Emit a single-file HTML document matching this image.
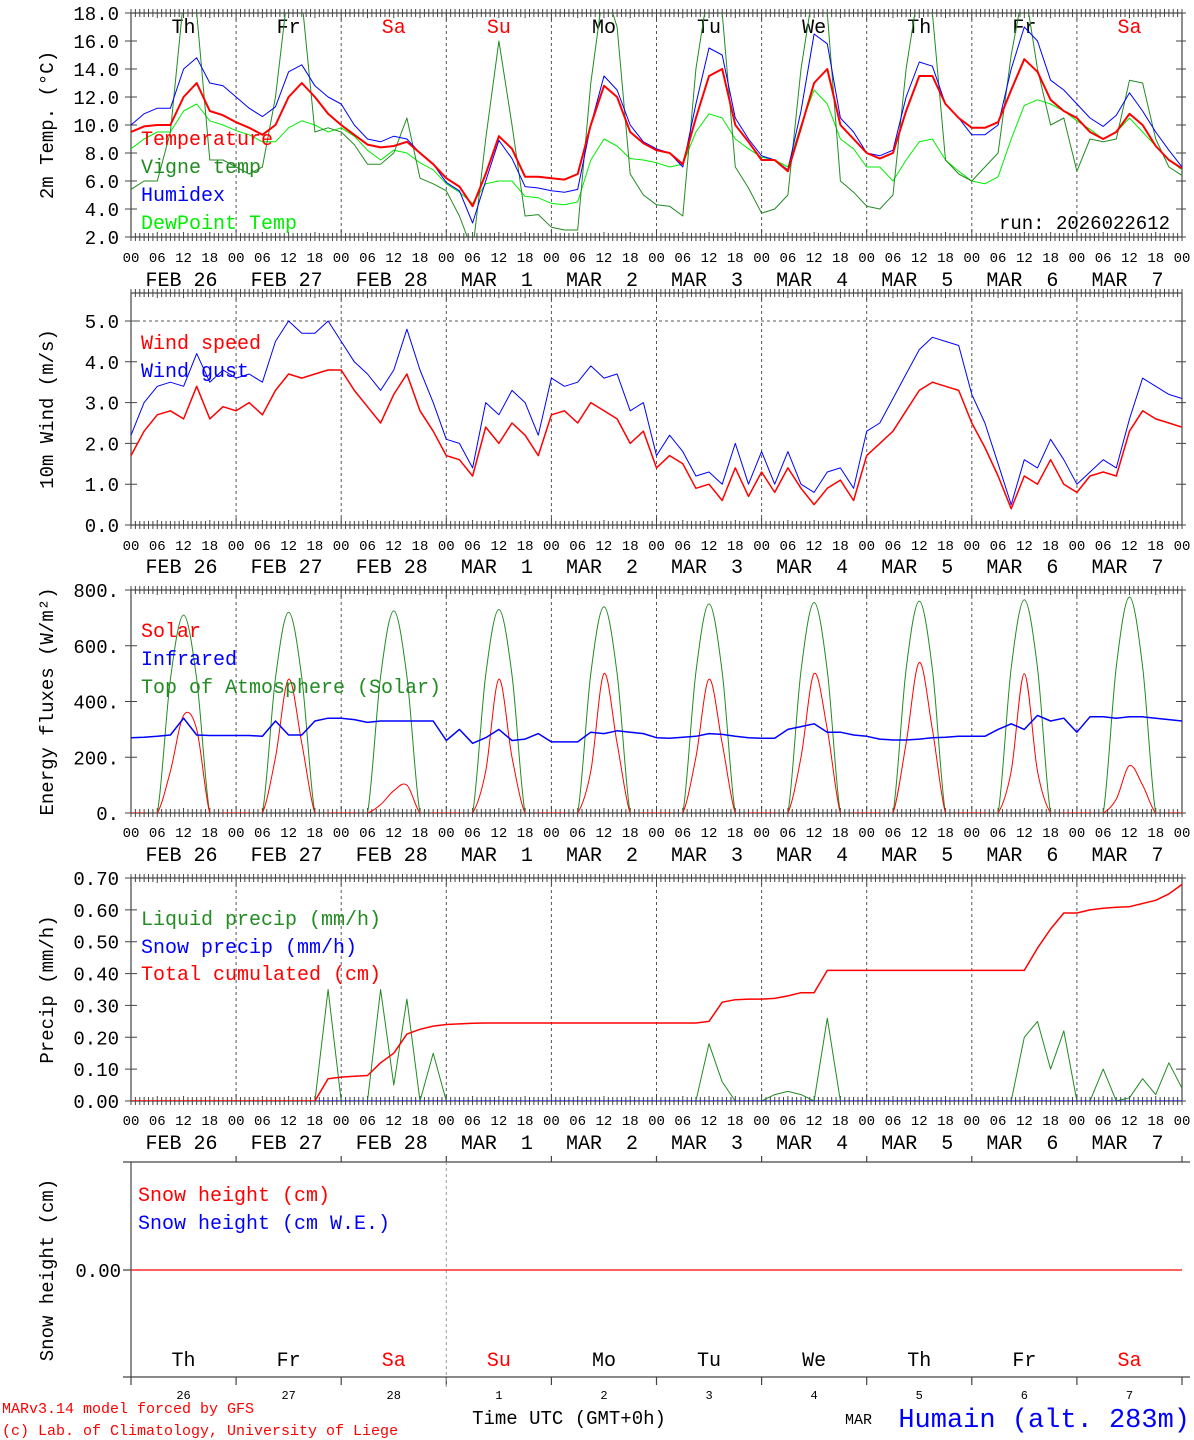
<!DOCTYPE html>
<html><head><meta charset="utf-8">
<style>
body{margin:0;background:#fff;}
svg{display:block;font-family:"Liberation Mono","DejaVu Sans Mono",monospace;}
</style></head>
<body>
<svg id="chart" width="1194" height="1440" viewBox="0 0 1194 1440" xmlns="http://www.w3.org/2000/svg"></svg>
<script>
// ---- data (3-hourly, 81 values from FEB 26 00 UTC to MAR 8 00 UTC) ----
const weekdays=['Th','Fr','Sa','Su','Mo','Tu','We','Th','Fr','Sa'];
const dateLabels=['FEB 26','FEB 27','FEB 28','MAR  1','MAR  2','MAR  3','MAR  4','MAR  5','MAR  6','MAR  7'];
const dayNums=['26','27','28','1','2','3','4','5','6','7'];
const hourLabels=['00','06','12','18'];
const tempTicks=[2,4,6,8,10,12,14,16,18];
const windTicks=[0,1,2,3,4,5];
const fluxTicks=[0,200,400,600,800];
const precipTicks=[0,0.1,0.2,0.3,0.4,0.5,0.6,0.7];
const temperature=[9.5,9.9,10.0,10.0,12.0,13.0,11.0,10.7, 10.2,9.8,9.3,10.0,12.0,13.0,12.0,10.8, 10.0,9.3,8.6,8.4,8.5,8.8,8.0,7.2, 6.2,5.6,4.2,6.5,9.2,8.3,6.3,6.3, 6.2,6.1,6.5,10.0,12.8,12.0,9.5,8.7, 8.2,8.0,7.2,10.5,13.5,14.0,10.0,8.8, 7.5,7.5,6.7,9.8,13.0,14.0,10.0,9.0, 8.0,7.6,8.0,11.0,13.5,13.5,11.5,10.5, 9.8,9.8,10.2,12.5,14.7,13.8,11.8,11.0, 10.5,9.5,9.0,9.5,10.8,10.0,8.5,7.5,6.9];
const humidex=[10.0,10.8,11.2,11.2,14.0,14.8,13.0,12.8, 12.0,11.2,10.6,11.3,13.8,14.3,12.8,12.0, 11.5,10.0,9.0,8.8,9.2,9.0,8.0,7.2, 5.9,5.3,3.0,6.0,8.9,7.6,5.6,5.5, 5.3,5.2,5.4,10.0,13.5,12.5,10.0,8.8, 8.3,8.0,7.0,11.5,15.5,15.0,10.5,9.0, 7.8,7.5,6.8,11.0,16.5,15.8,10.5,9.5, 8.0,7.8,8.2,12.0,14.5,14.2,11.5,10.5, 9.3,9.3,10.0,14.0,17.0,16.0,13.2,12.5, 11.5,10.5,9.9,10.7,12.3,11.0,9.5,8.2,7.0];
const dewpoint=[8.3,9.0,9.5,9.5,11.0,11.5,10.3,10.0, 9.6,9.3,8.8,8.8,9.8,10.3,10.0,9.5, 9.8,9.2,8.2,7.5,8.2,8.0,7.3,6.8, 5.8,5.2,4.4,5.8,6.0,6.0,4.9,4.8, 4.4,4.3,4.5,7.5,9.0,8.5,7.6,7.5, 7.3,7.0,7.2,9.5,10.8,10.5,9.0,8.3, 7.7,7.5,7.0,10.0,12.5,11.5,9.0,8.3, 7.0,7.0,6.0,7.5,8.8,9.0,7.5,6.7, 6.0,5.8,6.3,9.0,11.4,11.8,11.5,11.0, 10.3,9.7,9.0,9.5,10.5,9.5,8.5,7.5,6.8];
const vigne=[5.4,6.0,6.0,9.5,19,18,7.5,7.5, 7.0,6.5,7.0,12,20,19,9.5,9.8, 9.5,8.6,7.2,7.2,8.0,10.5,6.2,5.8, 5.3,3.5,1.0,9.0,16.0,10.0,3.5,3.6, 2.7,2.5,2.5,13,20,17,6.5,5.0, 4.3,4.2,3.5,14,20,18,7.0,5.5, 3.7,4.0,5.0,14,20,18,6.0,5.2, 4.2,4.0,5.0,14,20,18,7.5,6.5, 6.0,7.0,8.0,15,20,14,10,10.5, 6.7,9.0,8.8,9.0,13.2,13.0,9.0,7.0,6.4];
const windSpeed=[1.7,2.3,2.7,2.8,2.6,3.4,2.6,2.9, 2.8,3.0,2.7,3.3,3.7,3.6,3.7,3.8, 3.8,3.3,2.9,2.5,3.2,3.7,2.8,2.3, 1.7,1.6,1.2,2.4,2.0,2.5,2.2,1.7, 2.7,2.8,2.5,3.0,2.8,2.6,2.0,2.3, 1.4,1.7,1.5,0.9,1.0,0.6,1.4,0.7, 1.3,0.8,1.4,0.9,0.5,0.9,1.1,0.6, 1.7,2.0,2.3,2.8,3.3,3.5,3.4,3.3, 2.5,1.9,1.2,0.4,1.2,1.0,1.6,1.0, 0.8,1.2,1.3,1.2,2.3,2.8,2.6,2.5,2.4];
const windGust=[2.2,3.0,3.4,3.5,3.4,4.2,3.5,3.8, 3.6,3.7,3.5,4.5,5.0,4.7,4.7,5.0, 4.5,4.0,3.7,3.3,3.8,4.8,3.8,3.0, 2.1,2.0,1.4,3.0,2.7,3.3,3.0,2.2, 3.6,3.4,3.5,3.9,3.6,3.7,2.8,3.0, 1.7,2.2,1.8,1.2,1.3,1.0,2.0,1.0, 1.8,1.0,1.8,1.0,0.8,1.3,1.4,0.9, 2.3,2.5,3.1,3.7,4.3,4.6,4.5,4.4, 3.2,2.5,1.5,0.5,1.6,1.4,2.1,1.6, 1.0,1.3,1.6,1.4,2.6,3.6,3.4,3.2,3.1];
const solar=[0,0,0,150,350,300,0,0, 0,0,0,200,480,250,0,0, 0,0,0,30,80,100,0,0, 0,0,0,150,480,200,0,0, 0,0,0,150,500,250,0,0, 0,0,0,200,480,250,0,0, 0,0,0,200,500,300,0,0, 0,0,0,250,540,300,0,0, 0,0,0,150,500,150,0,0, 0,0,0,50,170,100,0,0,0];
const infrared=[270,272,275,280,340,280,278,278, 278,278,275,330,280,280,330,340, 340,335,325,330,330,330,330,330, 260,300,250,270,300,260,265,285, 255,255,255,290,285,295,290,285, 270,268,272,275,285,282,275,270, 268,268,300,310,320,290,290,280, 275,265,262,262,265,270,272,275, 275,275,300,320,300,350,330,340, 290,345,345,340,345,345,340,335,330];
const toa=[0,0,0,480,710,480,0,0, 0,0,0,485,720,485,0,0, 0,0,0,490,725,490,0,0, 0,0,0,495,730,495,0,0, 0,0,0,500,740,500,0,0, 0,0,0,505,750,505,0,0, 0,0,0,510,755,510,0,0, 0,0,0,515,760,515,0,0, 0,0,0,520,765,520,0,0, 0,0,0,525,775,525,0,0,0];
const liquid=[0,0,0,0,0,0,0,0, 0,0,0,0,0,0,0,0.35, 0,0,0,0.35,0.05,0.32,0,0.15, 0,0,0,0,0,0,0,0, 0,0,0,0,0,0,0,0, 0,0,0,0,0.18,0.06,0,0, 0,0.02,0.03,0.02,0,0.26,0,0, 0,0,0,0,0,0,0,0, 0,0,0,0,0.2,0.25,0.1,0.22, 0,0,0.1,0,0.01,0.07,0.02,0.12,0.04];
const snowPrecip=[0,0,0,0,0,0,0,0, 0,0,0,0,0,0,0,0, 0,0,0,0,0,0,0,0, 0,0,0,0,0,0,0,0, 0,0,0,0,0,0,0,0, 0,0,0,0,0,0,0,0, 0,0,0,0,0,0,0,0, 0,0,0,0,0,0,0,0, 0,0,0,0,0,0,0,0, 0,0,0,0,0,0,0,0,0];
const cumulated=[0,0,0,0,0,0,0,0, 0,0,0,0,0,0,0,0.07, 0.075,0.078,0.08,0.12,0.15,0.21,0.225,0.235, 0.24,0.242,0.244,0.245,0.245,0.245,0.245,0.245, 0.245,0.245,0.245,0.245,0.245,0.245,0.245,0.245, 0.245,0.245,0.245,0.245,0.25,0.31,0.318,0.32, 0.32,0.322,0.33,0.34,0.34,0.41,0.41,0.41, 0.41,0.41,0.41,0.41,0.41,0.41,0.41,0.41, 0.41,0.41,0.41,0.41,0.41,0.48,0.54,0.59, 0.59,0.6,0.605,0.608,0.61,0.62,0.63,0.65,0.68];
const snowHeight=[0,0];
</script>
<script>
const svg=document.getElementById('chart');
const NS='http://www.w3.org/2000/svg';
const X0=131,X1=1182;
function X(h){return X0+h*(X1-X0)/240;}
function mk(tag,attrs,parent){const e=document.createElementNS(NS,tag);for(const k in attrs)e.setAttribute(k,attrs[k]);(parent||svg).appendChild(e);return e;}
function txt(s,x,y,size,color,anchor,parent){const e=mk('text',{x:x,y:y,'font-size':size,fill:color,'text-anchor':anchor||'start'},parent);e.textContent=s;e.setAttribute('xml:space','preserve');e.style.whiteSpace='pre';return e;}

const panels=[
 {top:13,bot:237,min:2,max:18,ticks:tempTicks,fmt:v=>v.toFixed(1),title:'2m Temp. (\u00B0C)',hy:257,dy:279},
 {top:293,bot:525,min:0,max:5.686,ticks:windTicks,fmt:v=>v.toFixed(1),title:'10m Wind (m/s)',hy:545,dy:566},
 {top:590,bot:813,min:0,max:800,ticks:fluxTicks,fmt:v=>v+'.',title:'Energy fluxes (W/m\u00B2)',hy:832,dy:854},
 {top:878,bot:1101,min:0,max:0.7,ticks:precipTicks,fmt:v=>v.toFixed(2),title:'Precip (mm/h)',hy:1120,dy:1142}
];
function Y(p,v){return p.bot-(v-p.min)/(p.max-p.min)*(p.bot-p.top);}

panels.forEach((p,pi)=>{
  const g=mk('g',{});
  
  
  const cp=mk('clipPath',{id:'clip'+pi},g);
  mk('rect',{x:X0,y:p.top,width:X1-X0,height:p.bot-p.top},cp);
  let d='';
  for(let i=1;i<10;i++){d+='M'+X(i*24)+' '+p.top+'V'+p.bot;}
  const dv=mk('path',{d:d,stroke:'#555','stroke-width':1,'stroke-dasharray':'3,3',fill:'none'},g);
  
  
  const fr=mk('rect',{x:X0,y:p.top,width:X1-X0,height:p.bot-p.top,fill:'none',stroke:'#444','stroke-width':1.2},g);
  
  
  let t='';
  for(let h=0;h<=240;h++){const x=X(h);const L=(h%24==0)?7:(h%6==0?5:4);t+='M'+x+' '+(p.bot-L)+'V'+(p.bot+4)+'M'+x+' '+(p.top-4)+'V'+(p.top+L);}
  p.ticks.forEach(v=>{const y=Y(p,v);t+='M'+(X0-6)+' '+y+'H'+(X0+6)+'M'+(X1-6)+' '+y+'H'+(X1+4);});
  const tk=mk('path',{d:t,stroke:'#444','stroke-width':1,fill:'none'},g);
  
  
  p.ticks.forEach(v=>{
    const l=txt(p.fmt(v),X0-12,Y(p,v)+7,19,'#000','end',g);
    
    
  });
  const ti=txt(p.title,0,0,19,'#000','middle',g);
  ti.setAttribute('transform','translate(53,'+((p.top+p.bot)/2)+') rotate(-90)');
  
  
  for(let h=0;h<=240;h+=6){
    const l=txt(hourLabels[(h/6)%4],X(h),p.hy+5,14,'#000','middle',g);
    
    
  }
  dateLabels.forEach((s,i)=>{
    const l=txt(s,X(i*24+12)-2,p.dy+7,20,'#000','middle',g);
    
    
  });
  p.g=g;
});
function series(pi,arr,color,w,name,smooth){
  const p=panels[pi];
  const pts=arr.map((v,i)=>[X(i*3),Y(p,v)]);
  let d='M'+pts[0][0].toFixed(1)+' '+pts[0][1].toFixed(1);
  for(let i=1;i<pts.length;i++){
    if(smooth){
      const p0=pts[Math.max(0,i-2)],p1=pts[i-1],p2=pts[i],p3=pts[Math.min(pts.length-1,i+1)];
      const c1=[p1[0]+(p2[0]-p0[0])/6,Math.min(p.bot+5,p1[1]+(p2[1]-p0[1])/6)];
      const c2=[p2[0]-(p3[0]-p1[0])/6,Math.min(p.bot+5,p2[1]-(p3[1]-p1[1])/6)];
      d+='C'+c1[0].toFixed(1)+' '+c1[1].toFixed(1)+' '+c2[0].toFixed(1)+' '+c2[1].toFixed(1)+' '+p2[0].toFixed(1)+' '+p2[1].toFixed(1);
    } else d+='L'+pts[i][0].toFixed(1)+' '+pts[i][1].toFixed(1);
  }
  const e=mk('path',{d:d,stroke:color,'stroke-width':w,fill:'none','clip-path':'url(#clip'+pi+')','stroke-linejoin':'round'},p.g);
  
  
}
function legend(pi,s,color,y,x){
  const e=txt(s,x||141,y,20,color,'start',panels[pi].g);
  
  
}
weekdays.forEach((s,i)=>{
  const e=txt(s,X(i*24+12),33,20,(s=='Sa'||s=='Su')?'#f00':'#000','middle',panels[0].g);
  
  
});
series(0,dewpoint,'#00ee00',1,'dewpoint-line');
series(0,vigne,'#228b22',1,'vigne-temp-line');
series(0,humidex,'#0000ff',1,'humidex-line');
series(0,temperature,'#ff0000',2,'temperature-line');
legend(0,'Temperature','#f00',145);
legend(0,'Vigne temp','#228b22',173);
legend(0,'Humidex','#00f',201);
legend(0,'DewPoint Temp','#00ee00',229);
const run=txt('run: 2026022612',1170,229,19,'#000','end',panels[0].g);


const g5=mk('path',{d:'M'+X0+' '+Y(panels[1],5)+'H'+X1,stroke:'#555','stroke-dasharray':'3,3',fill:'none'},panels[1].g);


series(1,windGust,'#0000ff',1,'wind-gust-line');
series(1,windSpeed,'#ff0000',1.5,'wind-speed-line');
legend(1,'Wind speed','#f00',349);
legend(1,'Wind gust','#00f',377);
series(2,toa,'#228b22',1,'toa-solar-line',true);
series(2,solar,'#ff0000',1,'solar-line',true);
series(2,infrared,'#0000ff',1.5,'infrared-line');
legend(2,'Solar','#f00',637);
legend(2,'Infrared','#00f',665);
legend(2,'Top of Atmosphere (Solar)','#228b22',693);
series(3,liquid,'#228b22',1,'liquid-precip-line');
series(3,snowPrecip,'#0000ff',1,'snow-precip-line');
series(3,cumulated,'#ff0000',1.5,'cumulated-precip-line');
legend(3,'Liquid precip (mm/h)','#228b22',925);
legend(3,'Snow precip (mm/h)','#00f',953);
legend(3,'Total cumulated (cm)','#f00',980);
const p5={top:1162,bot:1377,y0:1270};
const g5p=mk('g',{});


let d5='M'+X0+' '+p5.top+'V'+(p5.bot+8)+'M'+(X0-8)+' '+p5.top+'H1190M'+(X0-8)+' '+p5.bot+'H1190M'+(X0-8)+' '+p5.y0+'H'+X0;
for(let i=1;i<=10;i++){d5+='M'+X(i*24)+' '+p5.top+'v-6M'+X(i*24)+' '+p5.bot+'v8';}
const ax5=mk('path',{d:d5,stroke:'#444','stroke-width':1.2,fill:'none'},g5p);


const dl5=mk('path',{d:'M'+X(72)+' '+p5.top+'V'+(p5.bot+10),stroke:'#999','stroke-dasharray':'3,3',fill:'none'},g5p);


const sh=mk('path',{d:'M'+X(0)+' '+p5.y0+'H'+X(240),stroke:'#f00','stroke-width':1.2,fill:'none'},g5p);


const l50=txt('0.00',X0-10,p5.y0+7,19,'#000','end',g5p);


const t5=txt('Snow height (cm)',0,0,19,'#000','middle',g5p);
t5.setAttribute('transform','translate(53,1270) rotate(-90)');


const s1=txt('Snow height (cm)',138,1201,20,'#f00','start',g5p);


const s2=txt('Snow height (cm W.E.)',138,1229,20,'#00f','start',g5p);


weekdays.forEach((s,i)=>{
  const e=txt(s,X(i*24+12),1366,20,(s=='Sa'||s=='Su')?'#f00':'#000','middle',g5p);
  
  
  const n=txt(dayNums[i],X(i*24+12),1399,12,'#000','middle',g5p);
  
  
});
const f1=txt('MARv3.14 model forced by GFS',2,1413,15,'#f00','start');


const f2=txt('(c) Lab. of Climatology, University of Liege',2,1435,15,'#f00','start');


const f3=txt('Time UTC (GMT+0h)',569,1424,19,'#000','middle');


const f4=txt('MAR',845,1424,15,'#000','start');


const f5=txt('Humain (alt. 283m)',1190,1427,27,'#00f','end');


</script>
</body></html>
